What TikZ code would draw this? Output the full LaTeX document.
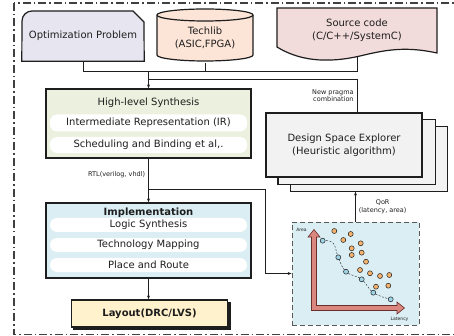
\documentclass[tikz,border=0pt]{standalone}
\usepackage{fontspec}
\setmainfont{DejaVu Sans}
\usepackage{xcolor}
\usetikzlibrary{calc}
\usetikzlibrary{positioning}
\usetikzlibrary{arrows.meta}
\usetikzlibrary{backgrounds}
\def\thickness{very thick}
\definecolor{optfill}{HTML}{E7E6F0}
\definecolor{techfill}{HTML}{FCE4D6}
\definecolor{srcfill}{HTML}{F2DCDB}
\definecolor{hlsfill}{HTML}{EBF1DE}
\definecolor{implfill}{HTML}{DAEEF3}
\definecolor{layfill}{HTML}{FFF2CC}
\definecolor{dsefill}{HTML}{F2F2F2}
\definecolor{axisfill}{HTML}{D9877F}
\definecolor{axisline}{HTML}{6B2F2A}
\definecolor{dotorange}{HTML}{F7B26E}
\definecolor{dotblue}{HTML}{9FD3E6}
\definecolor{ink}{HTML}{1E1E1E}
\tikzset{
txt/.style={text=ink, font=\fontsize{10}{13}\selectfont, inner sep=0pt},
box/.style={draw=ink, \thickness, fill=#1, inner sep=0pt},
pill/.style={fill=white, rounded corners=7pt, minimum width=197pt, inner sep=0pt, text=ink, font=\fontsize{10}{13}\selectfont},
link/.style={draw=ink, line width=0.8pt},
small/.style={text=ink, font=\fontsize{6.5}{7.5}\selectfont, inner sep=3pt},
tiny/.style={text=ink, font=\fontsize{4.5}{5}\selectfont, inner sep=0pt},
dot/.style={circle, draw=ink, line width=0.5pt, fill=#1, minimum size=5pt, inner sep=0pt},
frame/.style={draw=black!75, line width=1.2pt, dash pattern=on 8pt off 3pt on 1.5pt off 3pt},
}

\begin{document}
\begin{tikzpicture}[x=1pt, y=-1pt]
\useasboundingbox (0,0) rectangle (454,336);
\draw[frame] (14,3) rectangle (458,334.5);

%Place the nodes
\node[txt, minimum width=122pt, minimum height=50pt] (opt) at (83,36) {Optimization Problem};
\node[txt, align=center, minimum width=96pt, minimum height=51pt] (tech) at (205,37.5) {Techlib\\(ASIC,FPGA)};
\node[txt, align=center] (src) at (357,30) {Source code\\(C/C++/SystemC)};
\coordinate (srcb) at (357,57);

\node[box=hlsfill, minimum width=205pt, minimum height=69pt] (hls) at (148.5,123.5) {};
\node[txt] (hlsT) at (148.5,103) {High-level Synthesis};
\node[pill, minimum height=17pt] (ir) at (148.5,123) {Intermediate Representation (IR)};
\node[pill, minimum height=16pt] (sb) at (148.5,145) {Scheduling and Binding et al,.};

\node[box=implfill, minimum width=205pt, minimum height=75pt] (impl) at (148.5,240.5) {};
\node[txt, font=\fontsize{10}{13}\selectfont\bfseries] (implT) at (148.5,212.5) {Implementation};
\foreach \t [count=\i] in {Logic Synthesis, Technology Mapping, Place and Route} {
	\node[pill, minimum height=14pt] (imp\i) at (148.5,205+20*\i) {\t};
}

\node[box=layfill, txt, minimum width=156pt, minimum height=27pt, font=\fontsize{10}{13}\selectfont\bfseries] (lay) at (149.5,313.5) {Layout(DRC/LVS)};

\node[box=dsefill, txt, align=center, minimum width=156pt, minimum height=64pt] (dse) at (344,145) {Design Space Explorer\\(Heuristic algorithm)};
\coordinate (dse3) at ($(dse.south)+(25,14)$);

\node[draw=black!65, thick, dash pattern=on 5pt off 3pt, fill=implfill, minimum width=127pt, minimum height=103pt] (scat) at (355.5,273.5) {};

%Shapes behind the nodes
\begin{scope}[on background layer]
\filldraw[box=optfill] (opt.south west) -- (22,21) arc[start angle=180, end angle=270, radius=10] -- (133,11) -- (144,22) -- (opt.south east) -- cycle;
\filldraw[box=techfill] (157,15) -- (157,55) arc[start angle=180, end angle=0, x radius=48, y radius=6] -- (253,15) arc[start angle=0, end angle=-180, x radius=48, y radius=6] -- cycle;
\draw[\thickness, draw=ink] (157,15) arc[start angle=180, end angle=0, x radius=48, y radius=6];
\filldraw[box=srcfill] (277,8) -- (437,8) -- (437,53) .. controls (405,46) and (385,50) .. (360,56) .. controls (325,64) and (298,60) .. (277,47) -- cycle;
\filldraw[box=dsefill] ($(dse.north west)+(25,14)$) rectangle ($(dse.south east)+(25,14)$);
\filldraw[box=dsefill] ($(dse.north west)+(12.5,7)$) rectangle ($(dse.south east)+(12.5,7)$);
\fill[ink] ($(lay.north west)+(2.5,2.5)$) rectangle ($(lay.south east)+(2.5,2.5)$);
\end{scope}

%
\coordinate (bus) at (148.5,71);
\coordinate (join) at (148.5,79);
\draw[link] (opt.south) |- (bus);
\draw[link] (tech.south) |- (bus);
\draw[link] (srcb) |- (bus);
\draw[link, -{Stealth[length=4pt, width=3pt]}] (bus) -- (hls.north);
\draw[link] (dse.north -| srcb) -- node[small, left, align=right] {New pragma\\combination} (srcb |- join) -- (join);

%
\coordinate (tap) at (148.5,189);
\coordinate (bend) at (265,189);
\draw[link, -{Stealth[length=4pt, width=3pt]}] (hls.south) -- node[small, left, pos=0.36] {RTL(verilog, vhdl)} (impl.north);
\draw[link, -{Stealth[length=4pt, width=3pt]}] (tap) -- (bend) |- (scat.west);
\draw[link, -{Stealth[length=4pt, width=3pt]}] (impl.south) -- (impl.south |- lay.north);
\draw[link, -{Stealth[length=4pt, width=3pt]}] (scat.north) -- node[small, right, align=center] {QoR\\(latency, area)} (scat.north |- dse3);

%Pareto plot
\filldraw[fill=axisfill, draw=axisline, line width=0.6pt] (311.5,310.5) -- (311.5,237) -- (308,237) -- (314,229.5) -- (320,237) -- (316.5,237) -- (316.5,305.5) -- (397,305.5) -- (397,302) -- (404.5,308) -- (397,314) -- (397,310.5) -- cycle;
\node[tiny] (area) at (301.5,230) {Area};
\node[tiny] (lat) at (399.5,319) {Latency};
\draw[ink, line width=0.4pt, dash pattern=on 2pt off 1.5pt] plot[smooth, tension=0.7] coordinates {(322.7,240.7) (333,243) (338.3,257.3) (346,271.7) (361.7,279.3) (373.3,292.7) (390.7,299.3)};
\foreach \p in {(334.3,231), (350.7,234), (343.3,240), (351.7,248.3), (360.7,243.3), (351.7,255), (361.7,252.7), (366,261.7), (360,270), (370,273.3), (380,276), (389.3,275), (376,286.7), (388.3,285.7)} {
	\node[dot=dotorange] at \p {};
}
\foreach \p in {(322.7,240.7), (338.3,257.3), (346,271.7), (361.7,279.3), (373.3,292.7), (390.7,299.3)} {
	\node[dot=dotblue] at \p {};
}

\end{tikzpicture}
\end{document}
